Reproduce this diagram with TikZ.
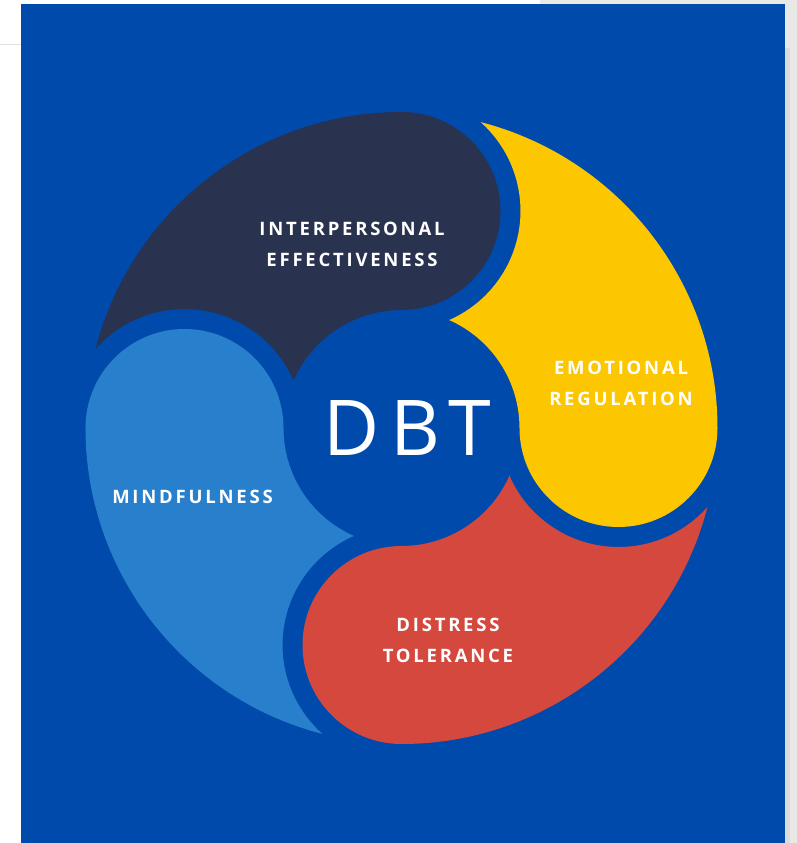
\documentclass[tikz,border=0pt]{standalone}
\usepackage{fontspec}
\setmainfont{Open Sans}
\newfontfamily\labelfont[LetterSpace=15]{Open Sans}
\newfontfamily\dbtfont[LetterSpace=14]{Open Sans}
\definecolor{bgblue}{RGB}{0,74,171}
\definecolor{navyc}{RGB}{41,50,78}
\definecolor{yellowc}{RGB}{252,198,0}
\definecolor{redc}{RGB}{212,72,62}
\definecolor{lblue}{RGB}{40,128,204}
\definecolor{pagegray}{RGB}{234,232,230}
\tikzset{
  lbl/.style={text=white, align=center, inner sep=0pt,
    font=\labelfont\bfseries\fontsize{18.5}{31}\selectfont},
  petal/.style={fill=#1}
}
\begin{document}
\begin{tikzpicture}[x=1pt,y=1pt]
\useasboundingbox (-401.5,-415) rectangle (395.5,428);
% page surroundings
\fill[white] (-401.5,-415) rectangle (395.5,428);
\fill[pagegray] (138.5,-415) rectangle (395.5,428);
\fill[black!12] (-401.5,382.5) rectangle (-380.5,384);
\fill[black!14] (383.5,-415) rectangle (388,380);
% blue card
\fill[bgblue] (-380.5,-415) rectangle (383.5,424);
% petals
\foreach \rot/\col in {90/navyc, 0/yellowc, -90/redc, 180/lblue}{
  \fill[petal=\col, rotate=\rot]
    (75.51:316) arc[start angle=75.51, end angle=0, radius=316]
    arc[start angle=0, end angle=-180, radius=99]
    arc[start angle=0, end angle=66.19, radius=118]
    arc[start angle=-66.4, end angle=48.37, radius=119] -- cycle;
}
% labels
\node[lbl] (ip) at (-49.5,183.5) {INTERPERSONAL\\EFFECTIVENESS};
\node[lbl] (er) at (219.5,45) {EMOTIONAL\\REGULATION};
\node[lbl] (mf) at (-209,-69) {MINDFULNESS};
\node[lbl] (dt) at (46.5,-212.5) {DISTRESS\\TOLERANCE};
\node[text=white, inner sep=0pt, font=\dbtfont\fontsize{77}{80}\selectfont] (dbt) at (6,0) {DBT};
\end{tikzpicture}
\end{document}
